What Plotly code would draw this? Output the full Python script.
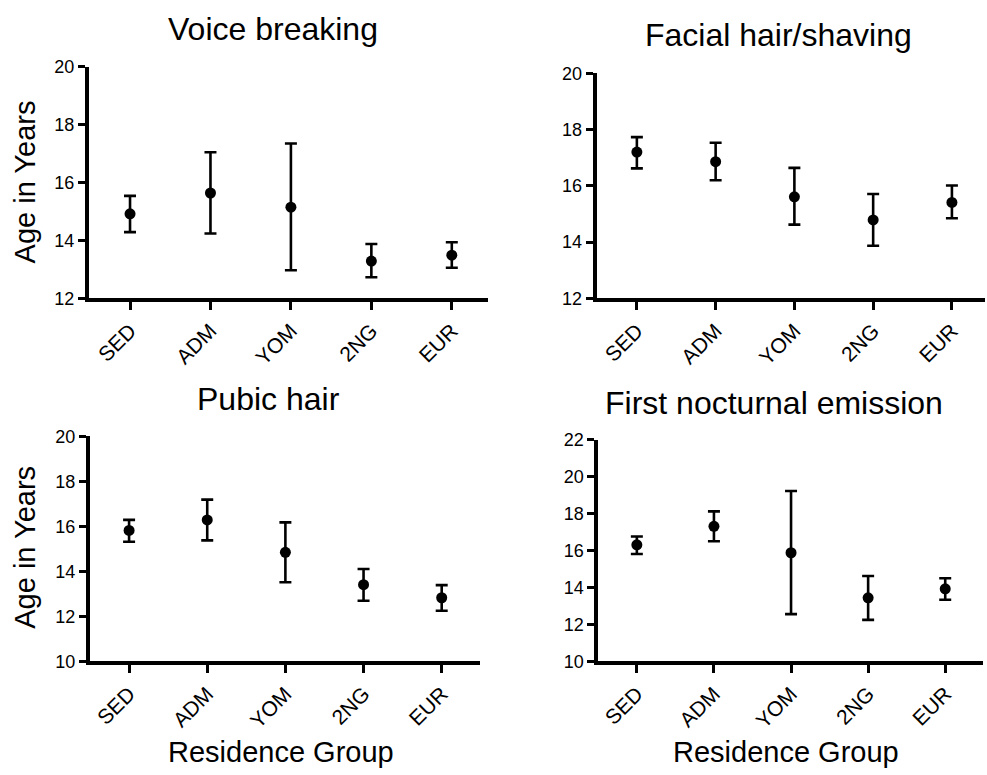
import plotly.graph_objects as go

# Residence groups shared by all four panels
groups = ["SED", "ADM", "YOM", "2NG", "EUR"]

# Voice breaking: mean age with lower / upper interval bounds
voice_mean = [14.92, 15.64, 15.15, 13.29, 13.49]
voice_low = [14.29, 14.24, 12.97, 12.73, 13.06]
voice_high = [15.54, 17.05, 17.35, 13.88, 13.94]

# Facial hair / shaving
facial_mean = [17.20, 16.86, 15.61, 14.79, 15.41]
facial_low = [16.62, 16.20, 14.62, 13.87, 14.85]
facial_high = [17.73, 17.53, 16.64, 15.71, 16.01]

# Pubic hair
pubic_mean = [15.82, 16.29, 14.85, 13.41, 12.83]
pubic_low = [15.32, 15.38, 13.52, 12.70, 12.25]
pubic_high = [16.29, 17.19, 16.18, 14.11, 13.39]

# First nocturnal emission
noct_mean = [16.31, 17.31, 15.88, 13.44, 13.93]
noct_low = [15.81, 16.50, 12.56, 12.25, 13.34]
noct_high = [16.76, 18.12, 19.22, 14.62, 14.50]

titles = ["Voice breaking", "Facial hair/shaving", "Pubic hair", "First nocturnal emission"]
y_ranges = [[12, 20], [12, 20], [10, 20], [10, 22]]
y_ticks = [[12, 14, 16, 18, 20], [12, 14, 16, 18, 20],
           [10, 12, 14, 16, 18, 20], [10, 12, 14, 16, 18, 20, 22]]

panels = [
    (voice_mean, voice_low, voice_high),
    (facial_mean, facial_low, facial_high),
    (pubic_mean, pubic_low, pubic_high),
    (noct_mean, noct_low, noct_high),
]

W, H = 987, 775
# plot-area boxes in pixels: left, right, top, bottom
boxes = [
    (89, 488, 58.3, 296),
    (596.7, 985, 65, 296),
    (90, 480, 437.7, 668.7),
    (598.3, 983, 441, 668.7),
]
x_ranges = [[-0.51, 4.45], [-0.51, 4.42], [-0.50, 4.49], [-0.50, 4.49]]

FONT = "Liberation Sans, Arial, sans-serif"

fig = go.Figure()
layout = dict(
    width=W, height=H,
    margin=dict(l=0, r=0, t=0, b=0),
    paper_bgcolor="white", plot_bgcolor="white",
    showlegend=False,
    font=dict(family=FONT, color="black"),
)

for i, (mean, low, high) in enumerate(panels):
    n = "" if i == 0 else str(i + 1)
    plus = [h - m for h, m in zip(high, mean)]
    minus = [m - l for m, l in zip(mean, low)]
    fig.add_trace(go.Scatter(
        x=groups, y=mean, mode="markers",
        xaxis="x" + n, yaxis="y" + n,
        marker=dict(color="black", size=11, symbol="circle"),
        error_y=dict(type="data", symmetric=False, array=plus, arrayminus=minus,
                     color="black", thickness=2.6, width=6),
        cliponaxis=False,
    ))
    l, r, t, b = boxes[i]
    layout["xaxis" + n] = dict(
        domain=[l / W, r / W], anchor="y" + n,
        type="category", range=x_ranges[i],
        showgrid=False, zeroline=False,
        showline=True, linecolor="black", linewidth=4,
        ticks="outside", ticklen=8, tickwidth=3, tickcolor="black",
        tickangle=-45, tickfont=dict(size=21, family=FONT, color="black"),
    )
    layout["yaxis" + n] = dict(
        domain=[1 - b / H, 1 - t / H], anchor="x" + n,
        range=y_ranges[i], tickvals=y_ticks[i],
        showgrid=False, zeroline=False,
        showline=True, linecolor="black", linewidth=4,
        ticks="outside", ticklen=7, tickwidth=3, tickcolor="black",
        tickfont=dict(size=18, family=FONT, color="black"),
    )

fig.update_layout(**layout)

# panel titles
title_pos = [(273, 19), (778, 26), (268, 399), (774, 403)]
for text, (x, y) in zip(titles, title_pos):
    fig.add_annotation(text=text, x=x / W, y=1 - y / H, xref="paper", yref="paper",
                       showarrow=False, xanchor="center", yanchor="middle",
                       font=dict(size=32, family=FONT, color="black"))

# shared axis titles
for y in (177, 552):
    fig.add_annotation(text="Age in Years", x=25 / W, y=1 - y / H, xref="paper", yref="paper",
                       showarrow=False, textangle=-90, xanchor="center", yanchor="middle",
                       font=dict(size=29, family=FONT, color="black"))
for x in (281, 786):
    fig.add_annotation(text="Residence Group", x=x / W, y=1 - 762 / H, xref="paper", yref="paper",
                       showarrow=False, xanchor="center", yanchor="middle",
                       font=dict(size=29, family=FONT, color="black"))

fig.write_html("out.html")
